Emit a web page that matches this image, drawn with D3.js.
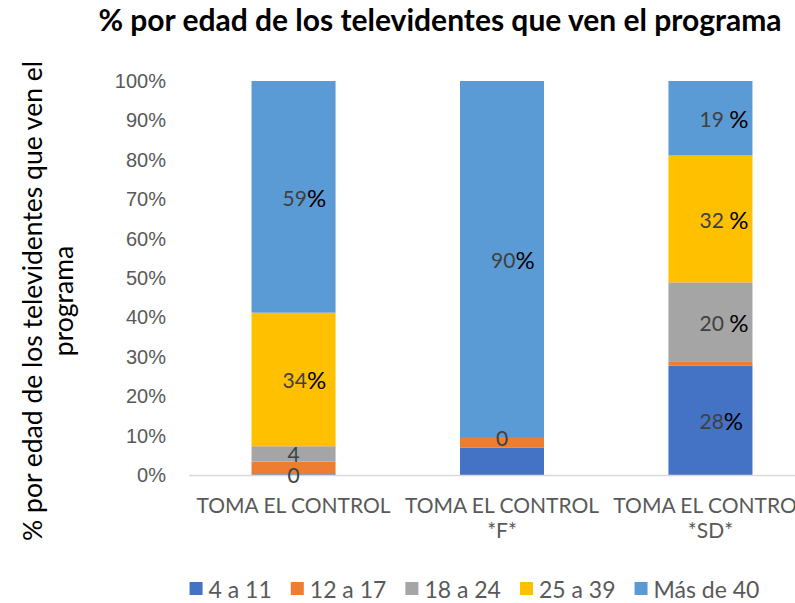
<!DOCTYPE html>
<html lang="es">
<head>
  <meta charset="UTF-8" />
  <title>% por edad de los televidentes que ven el programa</title>
  <script src="https://d3js.org/d3.v7.min.js"></script>
  <style>
    body { margin: 0; background: #fff; }
    svg { display: block; font-family: Lato, "Open Sans", sans-serif; }
    .tick text { fill: #595959; font-size: 20px; }
  </style>
</head>
<body>
  <svg width="795" height="603"></svg>
  <script>
    // categories and series (share of viewers per age group, 0..1)
    const categories = [["TOMA EL CONTROL"], ["TOMA EL CONTROL", "*F*"], ["TOMA EL CONTROL", "*SD*"]];
    const ageGroups = ["4 a 11", "12 a 17", "18 a 24", "25 a 39", "Más de 40"];
    const colors = ["#4472C4", "#ED7D31", "#A5A5A5", "#FFC000", "#5B9BD5"];

    const s4a11   = [0.002, 0.069, 0.278];
    const s12a17  = [0.032, 0.025, 0.009];
    const s18a24  = [0.039, 0.000, 0.202];
    const s25a39  = [0.339, 0.000, 0.322];
    const sMas40  = [0.588, 0.906, 0.189];

    // data labels as shown on the chart (null = none)
    const lab4a11  = ["0", null, "28%"];
    const lab12a17 = [null, null, null];
    const lab18a24 = ["4", null, "20 %"];
    const lab25a39 = ["34%", "0", "32 %"];
    const labMas40 = ["59%", "90%", "19 %"];

    const yTicks = [0, 0.1, 0.2, 0.3, 0.4, 0.5, 0.6, 0.7, 0.8, 0.9, 1];

    const series = [s4a11, s12a17, s18a24, s25a39, sMas40];
    const labels = [lab4a11, lab12a17, lab18a24, lab25a39, labMas40];

    const rows = categories.map((c, i) => {
      const r = { idx: i };
      ageGroups.forEach((g, k) => r[g] = series[k][i]);
      return r;
    });

    const svg = d3.select("svg");

    const x = d3.scaleBand().domain(d3.range(categories.length))
      .range([189, 815]).paddingInner(0.597).paddingOuter(0.3);
    const y = d3.scaleLinear().domain([0, 1]).range([475, 81]);

    const stacked = d3.stack().keys(ageGroups)(rows);

    // title
    svg.append("text")
      .attr("x", 440).attr("y", 31)
      .attr("text-anchor", "middle")
      .style("font-size", "30px").style("font-weight", "bold").style("fill", "#000")
      .text("% por edad de los televidentes que ven el programa");

    // y axis
    const yAxis = svg.append("g")
      .attr("transform", "translate(175,0)")
      .call(d3.axisLeft(y).tickValues(yTicks).tickFormat(d3.format(".0%")).tickSize(0).tickPadding(9));
    yAxis.select(".domain").remove();

    // y axis title
    const yt = svg.append("text")
      .attr("transform", "translate(0,301) rotate(-90)")
      .attr("text-anchor", "middle")
      .style("font-size", "26.5px").style("fill", "#000");
    yt.append("tspan").attr("x", 0).attr("y", 42).text("% por edad de los televidentes que ven el");
    yt.append("tspan").attr("x", 0).attr("y", 73).text("programa");

    // bars
    svg.append("g").selectAll("g")
      .data(stacked)
      .join("g")
      .attr("fill", (d, i) => colors[i])
      .selectAll("rect")
      .data(d => d)
      .join("rect")
      .attr("x", d => x(d.data.idx))
      .attr("width", x.bandwidth())
      .attr("y", d => y(d[1]))
      .attr("height", d => y(d[0]) - y(d[1]));

    // baseline
    svg.append("line")
      .attr("x1", 189).attr("x2", 815)
      .attr("y1", y(0) + 0.5).attr("y2", y(0) + 0.5)
      .attr("stroke", "#D9D9D9").attr("stroke-width", 1.5);

    // data labels
    const labelData = [];
    stacked.forEach((s, k) => s.forEach((d, i) => {
      const t = labels[k][i];
      if (t != null) labelData.push({ t, i, mid: (d[0] + d[1]) / 2 });
    }));

    const lg = svg.append("g");
    labelData.forEach(d => {
      const cx = x(d.i) + x.bandwidth() / 2;
      const hasPct = d.t.endsWith("%");
      const txt = lg.append("text")
        .attr("y", y(d.mid))
        .attr("dominant-baseline", "central");
      if (hasPct) {
        txt.attr("x", cx - 11).attr("text-anchor", "start");
        txt.append("tspan").style("font-size", "21px").style("fill", "#404040")
          .text(d.t.slice(0, -1));
        txt.append("tspan").style("font-size", "24px").style("fill", "#000").text("%");
      } else {
        txt.attr("x", cx).attr("text-anchor", "middle")
          .style("font-size", "21px").style("fill", "#404040").text(d.t);
      }
    });

    // category labels
    const xl = svg.append("g");
    categories.forEach((lines, i) => {
      const t = xl.append("text")
        .attr("text-anchor", "middle")
        .style("font-size", "21px").style("fill", "#595959");
      lines.forEach((ln, j) => t.append("tspan")
        .attr("x", x(i) + x.bandwidth() / 2)
        .attr("y", 513 + j * 25)
        .text(ln));
    });

    // legend
    const leg = svg.append("g").attr("transform", "translate(0,589)");
    const items = leg.selectAll("g").data(ageGroups).join("g");
    items.append("rect").attr("y", -7).attr("width", 13).attr("height", 13)
      .attr("fill", (d, i) => colors[i]);
    items.append("text").attr("x", 19).attr("dominant-baseline", "central")
      .style("font-size", "23px").style("fill", "#595959").text(d => d);
    const gap = 19;
    let cur = 0;
    const offs = [];
    items.each(function () {
      offs.push(cur);
      cur += this.getBBox().width + gap;
    });
    const start = 474.5 - (cur - gap) / 2;
    items.attr("transform", (d, i) => `translate(${start + offs[i]},0)`);
  </script>
</body>
</html>
